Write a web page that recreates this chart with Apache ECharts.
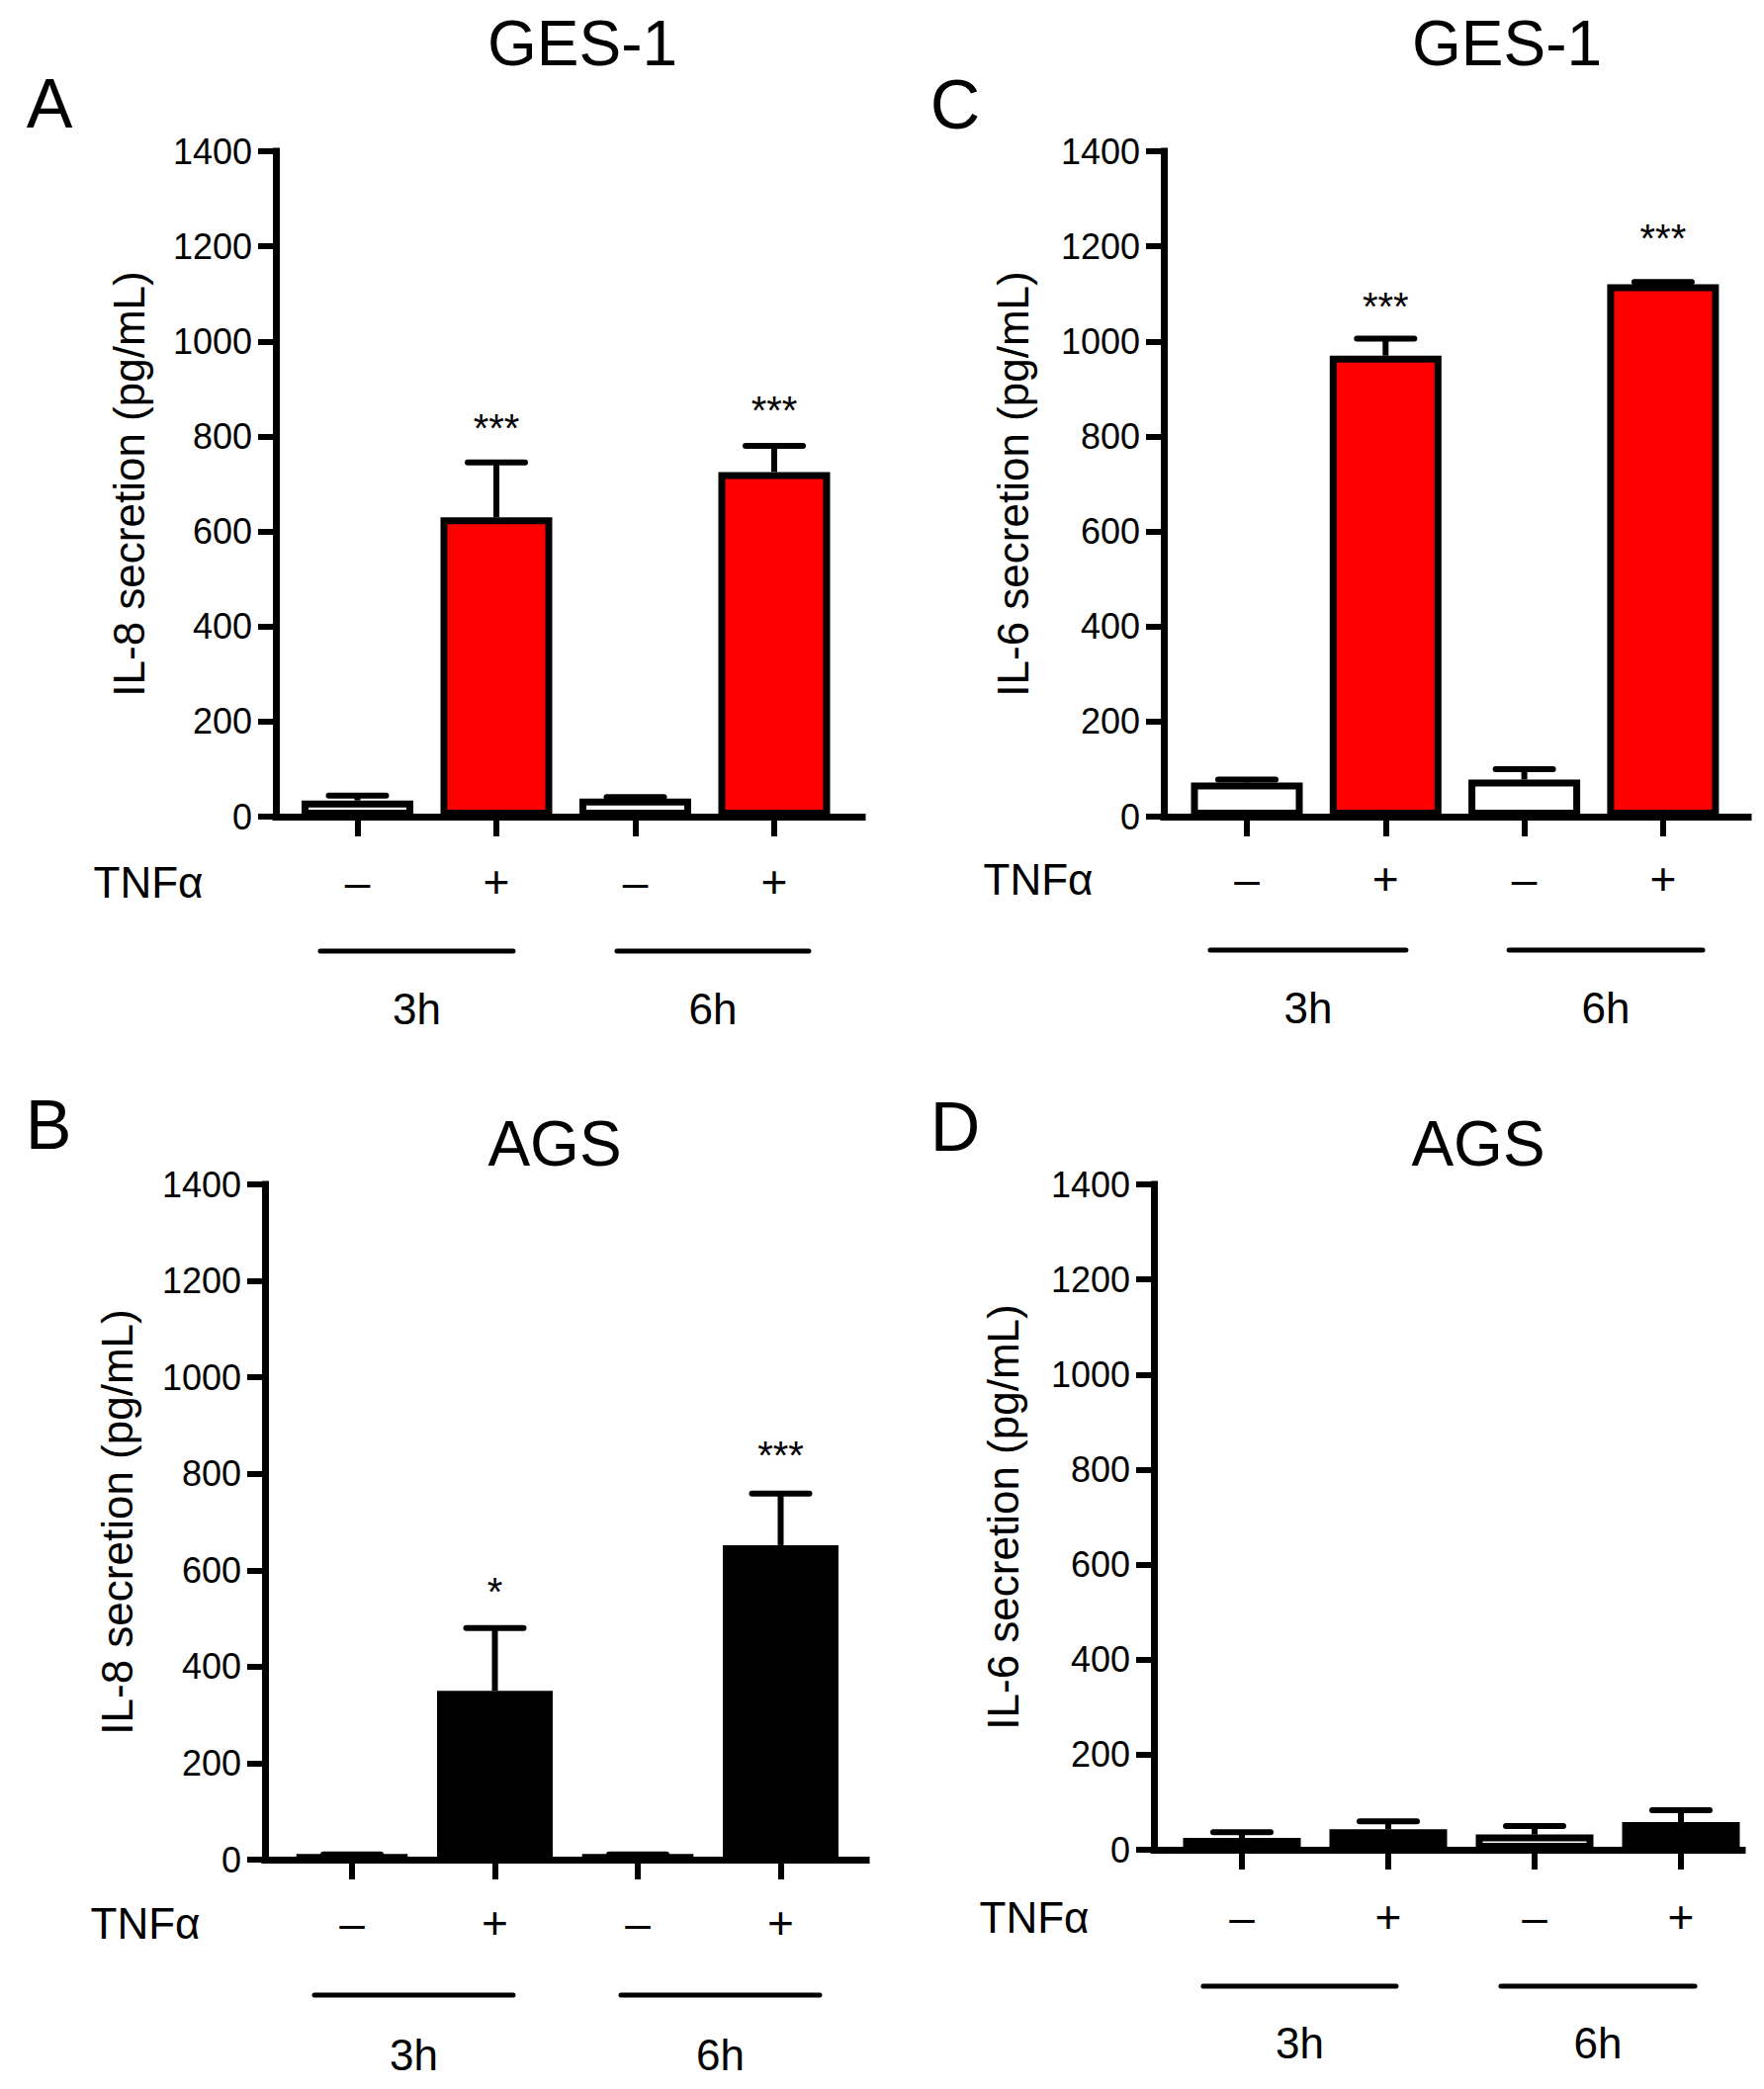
<!DOCTYPE html>
<html><head><meta charset="utf-8">
<script src="https://cdn.jsdelivr.net/npm/echarts@6/dist/echarts.min.js"></script>
<style>html,body{margin:0;padding:0;background:#fff}#c{width:1784px;height:2113px}</style>
</head><body><div id="c"></div>
<script>
// ---------- data ----------
const tnfLabels = ['–', '+', '–', '+'];
const timeGroups = ['3h', '6h'];
const yTickMax = 1400;
const yTickStep = 200;

// A: GES-1, IL-8
const gesIL8Mean = [34, 630, 38, 725];
const gesIL8Err  = [10, 115, 3, 55];
const gesIL8Sig  = ['', '***', '', '***'];
const gesIL8SigLevel = [-1, 837, -1, 873];
// B: AGS, IL-8
const agsIL8Mean = [9, 350, 9, 652];
const agsIL8Err  = [2, 130, 2, 107];
const agsIL8Sig  = ['', '*', '', '***'];
const agsIL8SigLevel = [-1, 574, -1, 857];
// C: GES-1, IL-6
const gesIL6Mean = [72, 970, 78, 1120];
const gesIL6Err  = [6, 36, 22, 5];
const gesIL6Sig  = ['', '***', '', '***'];
const gesIL6SigLevel = [-1, 1092, -1, 1235];
// D: AGS, IL-6
const agsIL6Mean = [25, 43, 32, 58];
const agsIL6Err  = [12, 17, 18, 25];
const agsIL6Sig  = ['', '', '', ''];
const agsIL6SigLevel = [-1, -1, -1, -1];

// ---------- layout / style ----------
const FONT = '"Liberation Sans", Arial, Helvetica, sans-serif';
const redFill = ['#ffffff', '#ff0000', '#ffffff', '#ff0000'];
const blackFill = ['#ffffff', '#000000', '#ffffff', '#000000'];

const panels = [
  { letter:'A', title:'GES-1', yName:'IL-8 secretion (pg/mL)', mean:gesIL8Mean, err:gesIL8Err, sig:gesIL8Sig, sigLevel:gesIL8SigLevel, fill:redFill,
    axisX:279, axisEnd:872, top:153, zero:826, cat0:361.5, step:140.5, barW:113, nameGap:127,
    labelGap:66, lineGap:136, groupGap:194, spans:[[-0.267,1.121],[1.868,3.249]],
    titleXY:[589,44], letterXY:[50,105], tnfX:150 },
  { letter:'C', title:'GES-1', yName:'IL-6 secretion (pg/mL)', mean:gesIL6Mean, err:gesIL6Err, sig:gesIL6Sig, sigLevel:gesIL6SigLevel, fill:redFill,
    axisX:1177, axisEnd:1768, top:153, zero:826, cat0:1261, step:140.3, barW:113, nameGap:131,
    labelGap:63, lineGap:135, groupGap:193, spans:[[-0.264,1.147],[1.889,3.286]],
    titleXY:[1524,44], letterXY:[966,106], tnfX:1050 },
  { letter:'B', title:'AGS', yName:'IL-8 secretion (pg/mL)', mean:agsIL8Mean, err:agsIL8Err, sig:agsIL8Sig, sigLevel:agsIL8SigLevel, fill:blackFill,
    axisX:268, axisEnd:876, top:1198, zero:1881, cat0:356, step:144.5, barW:117, nameGap:128,
    labelGap:64, lineGap:137, groupGap:197, spans:[[-0.263,1.128],[1.882,3.273]],
    titleXY:[561,1157], letterXY:[49,1138], tnfX:147 },
  { letter:'D', title:'AGS', yName:'IL-6 secretion (pg/mL)', mean:agsIL6Mean, err:agsIL6Err, sig:agsIL6Sig, sigLevel:agsIL6SigLevel, fill:blackFill,
    axisX:1167, axisEnd:1762, top:1198, zero:1871, cat0:1256, step:148, barW:119, nameGap:131,
    labelGap:68, lineGap:138, groupGap:195, spans:[[-0.264,1.054],[1.770,3.095]],
    titleXY:[1495,1157], letterXY:[966,1140], tnfX:1046 }
];

const grid = [], xAxis = [], yAxis = [], series = [], graphic = [];
const catIdx = tnfLabels.map((_, i) => i);

panels.forEach((p, k) => {
  grid.push({ left: p.axisX, top: p.top, width: p.axisEnd - p.axisX, height: p.zero - p.top, containLabel: false });
  xAxis.push({
    type: 'value', gridIndex: k,
    min: (p.axisX - p.cat0) / p.step, max: (p.axisEnd - p.cat0) / p.step,
    axisLine: { onZero: false, lineStyle: { color: '#000', width: 7, cap: 'square' } },
    axisTick: { customValues: catIdx, length: 20, lineStyle: { color: '#000', width: 6 } },
    axisLabel: { customValues: catIdx, formatter: v => tnfLabels[Math.round(v)], margin: p.labelGap,
      verticalAlign: 'middle', color: '#000', fontSize: 46, fontFamily: FONT },
    splitLine: { show: false }
  });
  yAxis.push({
    type: 'value', gridIndex: k, min: 0, max: yTickMax, interval: yTickStep,
    name: p.yName, nameLocation: 'middle', nameGap: p.nameGap,
    nameTextStyle: { color: '#000', fontSize: 44, fontFamily: FONT },
    axisLine: { onZero: false, lineStyle: { color: '#000', width: 7, cap: 'square' } },
    axisTick: { length: 18, lineStyle: { color: '#000', width: 6 } },
    axisLabel: { margin: 24, color: '#000', fontSize: 36, fontFamily: FONT, formatter: v => String(v) },
    splitLine: { show: false }
  });
  series.push({
    type: 'bar', xAxisIndex: k, yAxisIndex: k, barWidth: p.barW,
    data: p.mean.map((m, i) => ({ value: [i, m], itemStyle: { color: p.fill[i] } })),
    itemStyle: { borderColor: '#000', borderWidth: 7 },
    emphasis: { disabled: true }, z: 2
  });
  series.push({
    type: 'custom', xAxisIndex: k, yAxisIndex: k, z: 3, silent: true,
    data: p.mean.map((m, i) => [i, m, p.err[i], p.sigLevel[i]]),
    renderItem: (params, api) => {
      const x = api.value(0), m = api.value(1), e = api.value(2), s = api.value(3);
      const b = api.coord([x, m]), t = api.coord([x, m + e]);
      const ch = [
        { type: 'line', shape: { x1: b[0], y1: b[1], x2: t[0], y2: t[1] }, style: { stroke: '#000', lineWidth: 6 } },
        { type: 'line', shape: { x1: t[0] - 29, y1: t[1], x2: t[0] + 29, y2: t[1] }, style: { stroke: '#000', lineWidth: 6, lineCap: 'round' } }
      ];
      const txt = p.sig[params.dataIndex];
      if (txt && s >= 0) {
        const sp = api.coord([x, s]);
        ch.push({ type: 'text', x: sp[0], y: sp[1] + 9,
          style: { text: txt, fill: '#000', fontSize: 40, fontFamily: FONT, align: 'center', verticalAlign: 'middle' } });
      }
      return { type: 'group', children: ch };
    }
  });
  series.push({
    type: 'custom', xAxisIndex: k, yAxisIndex: k, z: 3, silent: true, clip: false,
    data: p.spans.map(s => [s[0], s[1]]),
    renderItem: (params, api) => {
      const a = api.coord([api.value(0), 0]), b = api.coord([api.value(1), 0]);
      const y = a[1] + p.lineGap;
      return { type: 'group', children: [
        { type: 'line', shape: { x1: a[0], y1: y, x2: b[0], y2: y }, style: { stroke: '#000', lineWidth: 5, lineCap: 'round' } },
        { type: 'text', x: (a[0] + b[0]) / 2, y: a[1] + p.groupGap,
          style: { text: timeGroups[params.dataIndex], fill: '#000', fontSize: 44, fontFamily: FONT, align: 'center', verticalAlign: 'middle' } }
      ]};
    }
  });
  graphic.push({ type: 'text', x: p.titleXY[0], y: p.titleXY[1],
    style: { text: p.title, fill: '#000', fontSize: 64, fontFamily: FONT, align: 'center', verticalAlign: 'middle' } });
  graphic.push({ type: 'text', x: p.letterXY[0], y: p.letterXY[1],
    style: { text: p.letter, fill: '#000', fontSize: 70, fontFamily: FONT, align: 'center', verticalAlign: 'middle' } });
  graphic.push({ type: 'text', x: p.tnfX, y: p.zero + p.labelGap,
    style: { text: 'TNFα', fill: '#000', fontSize: 44, fontFamily: FONT, align: 'center', verticalAlign: 'middle' } });
});

const chart = echarts.init(document.getElementById('c'), null, { renderer: 'svg' });
chart.setOption({ animation: false, backgroundColor: '#fff', grid, xAxis, yAxis, series, graphic });
</script>
</body></html>
